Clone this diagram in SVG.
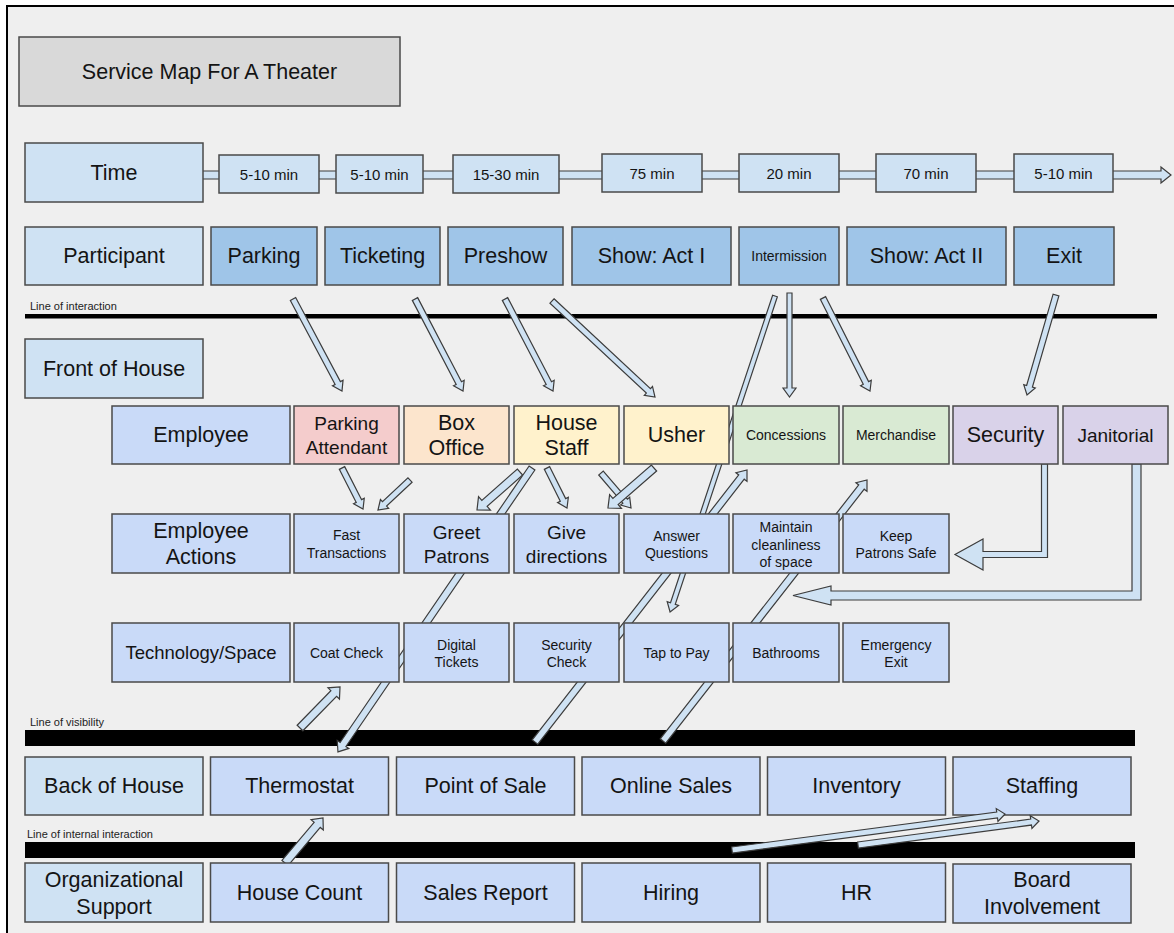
<svg xmlns="http://www.w3.org/2000/svg" width="1174" height="933" viewBox="0 0 1174 933">
  <style>
    .bx { stroke: #4a4a4a; stroke-width: 1.5; }
    .ttl { fill: #d9d9d9; }
    .lbl { fill: #cfe2f3; }
    .act { fill: #9fc5e8; }
    .cell { fill: #c9daf8; }
    .red { fill: #f4cccc; }
    .org { fill: #fce5cd; }
    .yel { fill: #fff2cc; }
    .grn { fill: #d9ead3; }
    .pur { fill: #d9d2e9; }
    .bar { fill: #000; }
    .arr { fill: #cfe2f3; stroke: #3c3c3c; stroke-width: 1.2; stroke-linejoin: miter; }
    text { font-family: "Liberation Sans", Arial, sans-serif; fill: #141414; }
    .t { text-anchor: middle; dominant-baseline: central; }
    .f22 { font-size: 21.5px; }
    .f19 { font-size: 19px; }
    .f18 { font-size: 18.5px; }
    .f15 { font-size: 15px; }
    .f14 { font-size: 14px; }
    .f11 { font-size: 11px; fill: #222; }
  </style>

  <!-- page -->
  <rect x="0" y="0" width="1174" height="933" fill="#ffffff"/>
  <rect x="7" y="6" width="1200" height="1000" fill="#efefef" stroke="#000" stroke-width="2"/>

  <!-- separator lines -->
  <g id="lines">
    <text class="f11" x="30" y="310">Line of interaction</text>
    <rect class="bar" x="25" y="314" width="1132" height="4.5"/>
    <text class="f11" x="30" y="726">Line of visibility</text>
    <rect class="bar" x="25" y="730" width="1110" height="16"/>
    <text class="f11" x="27" y="838">Line of internal interaction</text>
    <rect class="bar" x="25" y="842" width="1110" height="16"/>
  </g>

  <!-- staffing sits beneath the arrows that point into it -->
  <g id="staffing"><rect class="bx cell" x="953" y="757" width="178" height="58"/><text class="t f22" x="1042" y="786">Staffing</text></g>

  <!-- connectors -->
  <g id="connectors">
    <!-- timeline -->
    <path class="arr" d="M177 171H1161V167L1171 175L1161 183V179H177Z"/>
    <!-- participant to employee -->
    <path class="arr" transform="translate(293 299) rotate(61.96)" d="M0-3H95.2V-6L104.2 0L95.2 6V3H0Z"/>
    <path class="arr" transform="translate(415 299) rotate(62.45)" d="M0-3H94.8V-6L103.8 0L94.8 6V3H0Z"/>
    <path class="arr" transform="translate(505 299) rotate(62.45)" d="M0-3H94.8V-6L103.8 0L94.8 6V3H0Z"/>
    <path class="arr" transform="translate(552 301) rotate(42.99)" d="M0-3H131.8V-6L140.8 0L131.8 6V3H0Z"/>
    <path class="arr" transform="translate(775 296) rotate(108.37)" d="M0-2.5H324V-6L333 0L324 6V2.5H0Z"/>
    <path class="arr" transform="translate(789.5 293) rotate(90)" d="M0-2.5H95V-6.5L104 0L95 6.5V2.5H0Z"/>
    <path class="arr" transform="translate(823 298) rotate(63.19)" d="M0-3H95.2V-6L104.2 0L95.2 6V3H0Z"/>
    <path class="arr" transform="translate(1056 295) rotate(106.17)" d="M0-3H95.1V-6L104.1 0L95.1 6V3H0Z"/>
    <!-- employee to actions -->
    <path class="arr" transform="translate(342 468) rotate(62.88)" d="M0-3H37.1V-6L46.1 0L37.1 6V3H0Z"/>
    <path class="arr" transform="translate(410 480) rotate(136.85)" d="M0-3H34.9V-6L43.9 0L34.9 6V3H0Z"/>
    <path class="arr" transform="translate(520 472) rotate(138.53)" d="M0-4H47.4V-9L57.4 0L47.4 9V4H0Z"/>
    <path class="arr" transform="translate(547 468) rotate(63.43)" d="M0-3H35.7V-6L44.7 0L35.7 6V3H0Z"/>
    <path class="arr" transform="translate(601 473) rotate(49.4)" d="M0-3H37.1V-6L46.1 0L37.1 6V3H0Z"/>
    <path class="arr" transform="translate(654 468) rotate(138.99)" d="M0-4H51V-9L61 0L51 9V4H0Z"/>
    <!-- long diagonals -->
    <path class="arr" transform="translate(535 742) rotate(-52.07)" d="M0-3.5H335.9V-7L344.9 0L335.9 7V3.5H0Z"/>
    <path class="arr" transform="translate(663 741) rotate(-51.99)" d="M0-3.5H322.3V-7L331.3 0L322.3 7V3.5H0Z"/>
    <path class="arr" transform="translate(532 468) rotate(124.35)" d="M0-3.5H334.9V-7L343.9 0L334.9 7V3.5H0Z"/>
    <!-- back of house / support -->
    <path class="arr" transform="translate(300 728) rotate(-45.7)" d="M0-4H48.3V-8L57.3 0L48.3 8V4H0Z"/>
    <path class="arr" transform="translate(285 863) rotate(-49.82)" d="M0-4H49.9V-8L58.9 0L49.9 8V4H0Z"/>
    <path class="arr" transform="translate(732 850) rotate(-7.51)" d="M0-3H267.4V-6.5L275.4 0L267.4 6.5V3H0Z"/>
    <path class="arr" transform="translate(858 845) rotate(-7.55)" d="M0-3H174.6V-6.5L182.6 0L174.6 6.5V3H0Z"/>
    <!-- elbows -->
    <path class="arr" d="M1041.5 464H1047.5V557.5H983V570L955 554.5L983 539V551.5H1041.5Z"/>
    <path class="arr" d="M1132 464H1141V600H831V605L793 595.5L831 586V591H1132Z"/>
  </g>

  <!-- title -->
  <g id="title">
    <rect class="bx ttl" x="19" y="37" width="381" height="69"/>
    <text class="t f22" x="209.5" y="72">Service Map For A Theater</text>
  </g>

  <!-- time row -->
  <g id="time">
    <rect class="bx lbl" x="25" y="143" width="178" height="59"/>
    <text class="t f22" x="114" y="172.5">Time</text>
  </g>
  <g id="d1"><rect class="bx lbl" x="219" y="155" width="100" height="38"/><text class="t f15" x="269" y="174">5-10 min</text></g>
  <g id="d2"><rect class="bx lbl" x="336" y="155" width="87" height="38"/><text class="t f15" x="379.5" y="174">5-10 min</text></g>
  <g id="d3"><rect class="bx lbl" x="453" y="155" width="106" height="38"/><text class="t f15" x="506" y="174">15-30 min</text></g>
  <g id="d4"><rect class="bx lbl" x="602" y="154" width="100" height="38"/><text class="t f15" x="652" y="173">75 min</text></g>
  <g id="d5"><rect class="bx lbl" x="739" y="154" width="100" height="38"/><text class="t f15" x="789" y="173">20 min</text></g>
  <g id="d6"><rect class="bx lbl" x="876" y="154" width="100" height="38"/><text class="t f15" x="926" y="173">70 min</text></g>
  <g id="d7"><rect class="bx lbl" x="1014" y="154" width="99" height="38"/><text class="t f15" x="1063.5" y="173">5-10 min</text></g>

  <!-- participant row -->
  <g id="participant"><rect class="bx lbl" x="25" y="227" width="178" height="58"/><text class="t f22" x="114" y="256">Participant</text></g>
  <g id="parking"><rect class="bx act" x="211" y="227" width="106" height="58"/><text class="t f22" x="264" y="256">Parking</text></g>
  <g id="ticketing"><rect class="bx act" x="325" y="227" width="115" height="58"/><text class="t f22" x="382.5" y="256">Ticketing</text></g>
  <g id="preshow"><rect class="bx act" x="448" y="227" width="115" height="58"/><text class="t f22" x="505.5" y="256">Preshow</text></g>
  <g id="act1"><rect class="bx act" x="572" y="227" width="159" height="58"/><text class="t f22" x="651.5" y="256">Show: Act I</text></g>
  <g id="intermission"><rect class="bx act" x="739" y="227" width="100" height="58"/><text class="t f14" x="789" y="256">Intermission</text></g>
  <g id="act2"><rect class="bx act" x="847" y="227" width="159" height="58"/><text class="t f22" x="926.5" y="256">Show: Act II</text></g>
  <g id="exit"><rect class="bx act" x="1014" y="227" width="100" height="58"/><text class="t f22" x="1064" y="256">Exit</text></g>

  <!-- front of house -->
  <g id="front-of-house"><rect class="bx lbl" x="25" y="339" width="178" height="59"/><text class="t f22" x="114" y="368.5">Front of House</text></g>

  <!-- employee row -->
  <g id="employee"><rect class="bx cell" x="112" y="406" width="178" height="58"/><text class="t f22" x="201" y="435">Employee</text></g>
  <g id="parking-attendant"><rect class="bx red" x="294" y="406" width="105" height="58"/><text class="t f19" x="346.5" y="423">Parking</text><text class="t f19" x="346.5" y="447">Attendant</text></g>
  <g id="box-office"><rect class="bx org" x="404" y="406" width="105" height="58"/><text class="t f22" x="456.5" y="422.5">Box</text><text class="t f22" x="456.5" y="448">Office</text></g>
  <g id="house-staff"><rect class="bx yel" x="514" y="406" width="105" height="58"/><text class="t f22" x="566.5" y="422.5">House</text><text class="t f22" x="566.5" y="448">Staff</text></g>
  <g id="usher"><rect class="bx yel" x="624" y="406" width="105" height="58"/><text class="t f22" x="676.5" y="435">Usher</text></g>
  <g id="concessions"><rect class="bx grn" x="733" y="406" width="106" height="58"/><text class="t f14" x="786" y="435">Concessions</text></g>
  <g id="merchandise"><rect class="bx grn" x="843" y="406" width="106" height="58"/><text class="t f14" x="896" y="435">Merchandise</text></g>
  <g id="security"><rect class="bx pur" x="953" y="406" width="105" height="58"/><text class="t f22" x="1005.5" y="435">Security</text></g>
  <g id="janitorial"><rect class="bx pur" x="1063" y="406" width="105" height="58"/><text class="t f19" x="1115.5" y="435">Janitorial</text></g>

  <!-- employee actions row -->
  <g id="employee-actions"><rect class="bx cell" x="112" y="514" width="178" height="59"/><text class="t f22" x="201" y="530.5">Employee</text><text class="t f22" x="201" y="557">Actions</text></g>
  <g id="fast-transactions"><rect class="bx cell" x="294" y="514" width="105" height="59"/><text class="t f14" x="346.5" y="535">Fast</text><text class="t f14" x="346.5" y="553">Transactions</text></g>
  <g id="greet-patrons"><rect class="bx cell" x="404" y="514" width="105" height="59"/><text class="t f19" x="456.5" y="532">Greet</text><text class="t f19" x="456.5" y="556">Patrons</text></g>
  <g id="give-directions"><rect class="bx cell" x="514" y="514" width="105" height="59"/><text class="t f19" x="566.5" y="532">Give</text><text class="t f19" x="566.5" y="556">directions</text></g>
  <g id="answer-questions"><rect class="bx cell" x="624" y="514" width="105" height="59"/><text class="t f14" x="676.5" y="535.5">Answer</text><text class="t f14" x="676.5" y="553">Questions</text></g>
  <g id="maintain-cleanliness"><rect class="bx cell" x="733" y="514" width="106" height="59"/><text class="t f14" x="786" y="527">Maintain</text><text class="t f14" x="786" y="544.5">cleanliness</text><text class="t f14" x="786" y="562">of space</text></g>
  <g id="keep-patrons-safe"><rect class="bx cell" x="843" y="514" width="106" height="59"/><text class="t f14" x="896" y="535.5">Keep</text><text class="t f14" x="896" y="553">Patrons Safe</text></g>

  <!-- technology / space row -->
  <g id="technology-space"><rect class="bx cell" x="112" y="623" width="178" height="59"/><text class="t f18" x="201" y="652.5">Technology/Space</text></g>
  <g id="coat-check"><rect class="bx cell" x="294" y="623" width="105" height="59"/><text class="t f14" x="346.5" y="652.5">Coat Check</text></g>
  <g id="digital-tickets"><rect class="bx cell" x="404" y="623" width="105" height="59"/><text class="t f14" x="456.5" y="644.5">Digital</text><text class="t f14" x="456.5" y="662">Tickets</text></g>
  <g id="security-check"><rect class="bx cell" x="514" y="623" width="105" height="59"/><text class="t f14" x="566.5" y="644.5">Security</text><text class="t f14" x="566.5" y="662">Check</text></g>
  <g id="tap-to-pay"><rect class="bx cell" x="624" y="623" width="105" height="59"/><text class="t f14" x="676.5" y="652.5">Tap to Pay</text></g>
  <g id="bathrooms"><rect class="bx cell" x="733" y="623" width="106" height="59"/><text class="t f14" x="786" y="652.5">Bathrooms</text></g>
  <g id="emergency-exit"><rect class="bx cell" x="843" y="623" width="106" height="59"/><text class="t f14" x="896" y="644.5">Emergency</text><text class="t f14" x="896" y="662">Exit</text></g>

  <!-- back of house row -->
  <g id="back-of-house"><rect class="bx lbl" x="25" y="757" width="178" height="58"/><text class="t f22" x="114" y="786">Back of House</text></g>
  <g id="thermostat"><rect class="bx cell" x="210.5" y="757" width="178" height="58"/><text class="t f22" x="299.5" y="786">Thermostat</text></g>
  <g id="point-of-sale"><rect class="bx cell" x="396.5" y="757" width="178" height="58"/><text class="t f22" x="485.5" y="786">Point of Sale</text></g>
  <g id="online-sales"><rect class="bx cell" x="582" y="757" width="178" height="58"/><text class="t f22" x="671" y="786">Online Sales</text></g>
  <g id="inventory"><rect class="bx cell" x="767.5" y="757" width="178" height="58"/><text class="t f22" x="856.5" y="786">Inventory</text></g>

  <!-- organizational support row -->
  <g id="organizational-support"><rect class="bx lbl" x="25" y="863" width="178" height="59"/><text class="t f22" x="114" y="879.5">Organizational</text><text class="t f22" x="114" y="906.5">Support</text></g>
  <g id="house-count"><rect class="bx cell" x="210.5" y="863" width="178" height="59"/><text class="t f22" x="299.5" y="892.5">House Count</text></g>
  <g id="sales-report"><rect class="bx cell" x="396.5" y="863" width="178" height="59"/><text class="t f22" x="485.5" y="892.5">Sales Report</text></g>
  <g id="hiring"><rect class="bx cell" x="582" y="863" width="178" height="59"/><text class="t f22" x="671" y="892.5">Hiring</text></g>
  <g id="hr"><rect class="bx cell" x="767.5" y="863" width="178" height="59"/><text class="t f22" x="856.5" y="892.5">HR</text></g>
  <g id="board-involvement"><rect class="bx cell" x="953" y="864" width="178" height="59"/><text class="t f22" x="1042" y="879.5">Board</text><text class="t f22" x="1042" y="907">Involvement</text></g>
</svg>
